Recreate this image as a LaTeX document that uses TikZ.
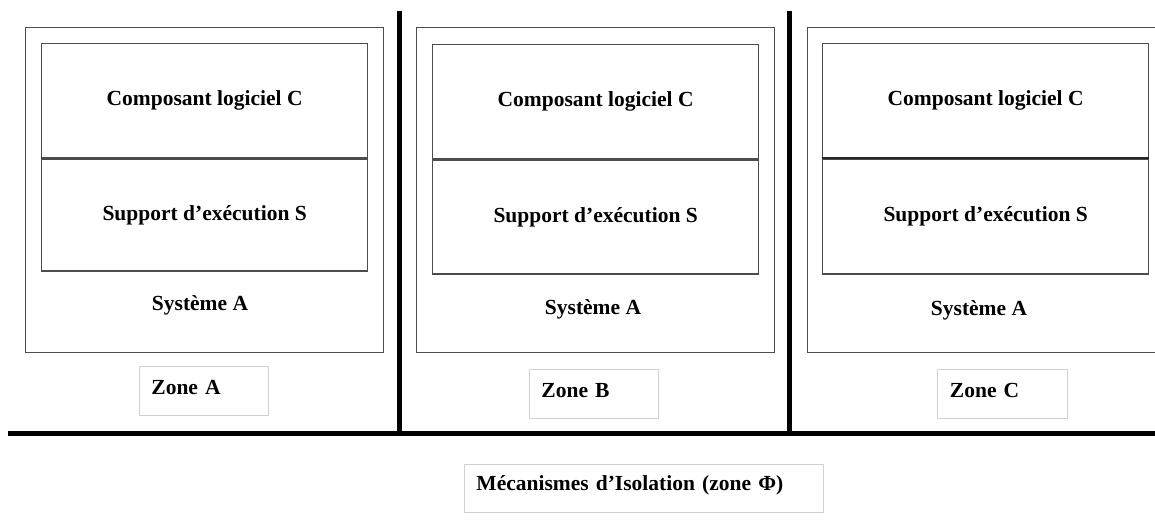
\documentclass[tikz,border=0pt]{standalone}
\usepackage{fontspec}
\setmainfont{Liberation Serif}
\usetikzlibrary{positioning}
\tikzstyle{frame} = [rectangle, draw=black!70, line width=1.3pt, inner sep=0pt, minimum width=358pt, minimum height=325pt, anchor=north west]
\tikzstyle{part} = [rectangle, draw=black!70, line width=1.3pt, inner sep=0pt, minimum width=326pt, text centered, font=\lbl]
\tikzstyle{zone} = [rectangle, draw=black!18, line width=0.9pt, anchor=north west, inner xsep=12pt, inner ysep=0pt, minimum width=129pt, minimum height=49pt, text width=105pt, text depth=7pt, align=left, font=\lbl]
\tikzstyle{wall} = [line width=5pt, black]
\newcommand{\lbl}{\fontsize{21.5pt}{24pt}\selectfont\bfseries}

\begin{document}
\begin{tikzpicture}[x=1pt, y=-1pt, node distance=0pt]

  \useasboundingbox (0,0) rectangle (1155,527);

  % Zone A
  \node (frameA) [frame] at (25,27) {};
  \node (compA) [part, anchor=north west, minimum height=114pt] at (41,43) {Composant logiciel C};
  \node (suppA) [part, below=of compA, minimum height=112pt] {Support d’exécution S};
  \node (sysA) [font=\lbl] at (200,305) {Système A};
  \node (zoneA) [zone] at (139,366) {Zone A};

  % Zone B
  \node (frameB) [frame] at (416,27) {};
  \node (compB) [part, anchor=north west, minimum height=114pt] at (432,44) {Composant logiciel C};
  \node (suppB) [part, below=of compB, minimum height=114pt] {Support d’exécution S};
  \node (sysB) [font=\lbl] at (593,309) {Système A};
  \node (zoneB) [zone, minimum height=49pt] at (529,369) {Zone B};

  % Zone C (frame runs off the right edge)
  \node (frameC) [frame, minimum width=370pt] at (807,27) {};
  \node (compC) [part, anchor=north west, minimum height=114pt] at (822,43) {Composant logiciel C};
  \node (suppC) [part, below=of compC, minimum height=115pt] {Support d’exécution S};
  \draw [line width=2.2pt, black!85] (compC.south west) -- (compC.south east);
  \node (sysC) [font=\lbl] at (979,310) {Système A};
  \node (zoneC) [zone, minimum width=130pt] at (937,369) {Zone C};

  % isolation walls
  \coordinate (wallAB) at (399.5,11);
  \coordinate (wallBC) at (789.5,11);
  \coordinate (floorL) at (8,433);
  \coordinate (floorR) at (1170,433);
  \draw [wall] (wallAB) -- (wallAB |- floorL);
  \draw [wall] (wallBC) -- (wallBC |- floorL);
  \draw [wall] (floorL) -- (floorR);

  \node (iso) [zone, minimum width=359pt, minimum height=48pt, text width=335pt, text depth=10pt] at (464,464) {Mécanismes d’Isolation (zone Φ)};

\end{tikzpicture}
\end{document}
